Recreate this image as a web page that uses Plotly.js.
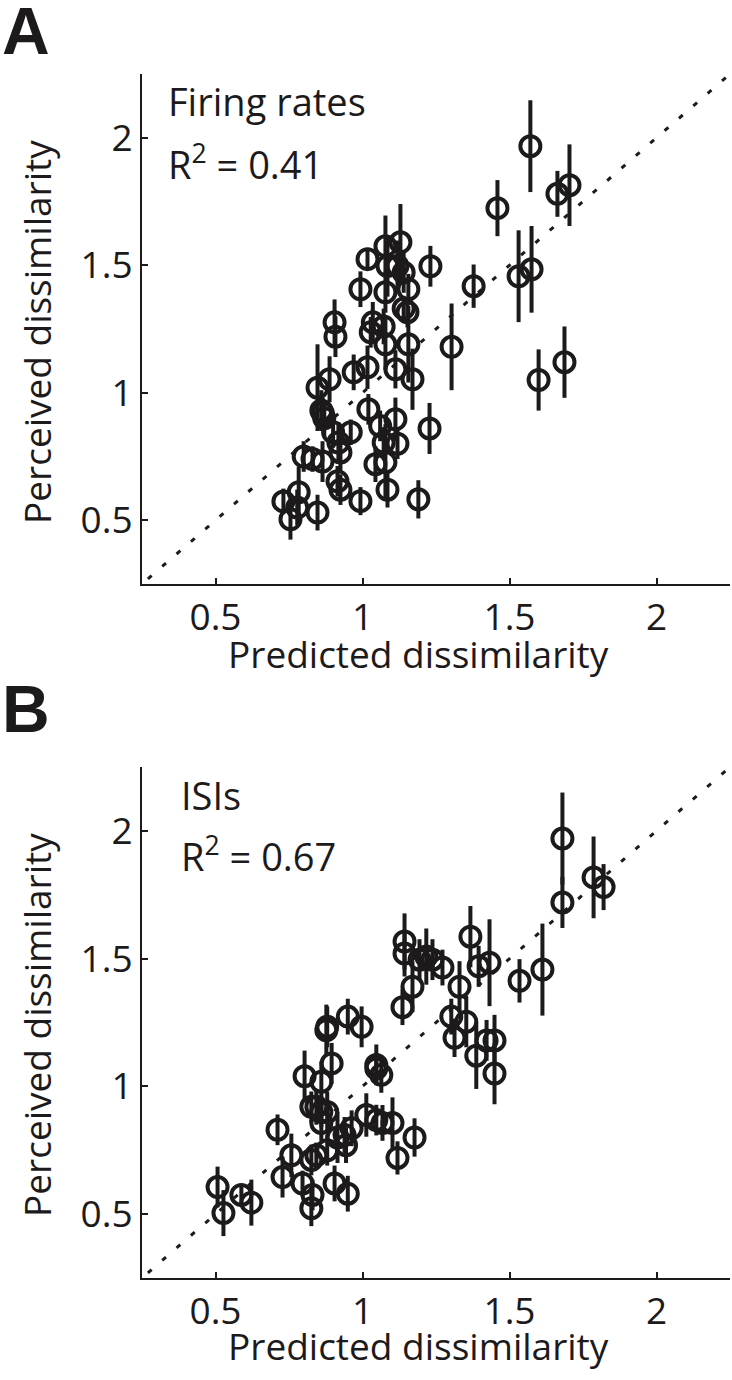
<!DOCTYPE html>
<html>
<head>
<meta charset="utf-8">
<script src="https://cdn.plot.ly/plotly-3.0.1.min.js"></script>
<style>html,body{margin:0;padding:0;background:#fff;}#chart{width:732px;height:1380px;}</style>
</head>
<body>
<div id="chart"></div>
<script>
// ---------- Data ----------
// Panel A: firing rates
const predA = [1.571,1.459,1.663,1.704,1.378,1.531,1.575,1.231,1.303,1.599,1.687,1.228,1.19,1.17,1.156,1.153,1.14,
  0.731,0.755,0.783,0.778,0.847,0.80,0.83,0.864,0.847,0.888,0.86,0.87,0.865,0.905,0.908,0.90,0.918,0.925,0.915,0.925,
  0.96,0.993,0.97,1.017,1.02,1.06,1.044,1.078,1.085,1.072,1.112,1.119,1.112,1.028,1.035,1.072,1.078,1.017,1.078,
  1.129,1.119,1.14,1.085,0.993,1.078,1.156];
const percA = [1.967,1.724,1.78,1.814,1.418,1.457,1.484,1.496,1.18,1.05,1.12,0.86,0.582,1.053,1.19,1.316,1.33,
  0.574,0.504,0.61,0.55,0.53,0.75,0.74,0.73,1.02,1.053,0.93,0.90,0.92,1.276,1.22,0.845,0.805,0.766,0.653,0.62,
  0.845,0.575,1.08,1.10,0.935,0.87,0.72,0.727,0.62,0.805,0.896,0.80,1.092,1.237,1.276,1.26,1.19,1.524,1.575,
  1.59,1.497,1.472,1.497,1.406,1.394,1.406];
const errA = [0.18,0.11,0.09,0.16,0.085,0.18,0.17,0.08,0.17,0.12,0.14,0.10,0.075,0.12,0.15,0.06,0.05,
  0.05,0.08,0.10,0.07,0.07,0.06,0.05,0.08,0.17,0.09,0.08,0.07,0.06,0.09,0.08,0.06,0.08,0.08,0.06,0.06,
  0.05,0.055,0.07,0.085,0.06,0.06,0.07,0.15,0.07,0.06,0.085,0.06,0.075,0.06,0.08,0.07,0.10,0.04,0.12,
  0.15,0.10,0.08,0.12,0.07,0.08,0.06];

// Panel B: ISIs
const predB = [1.68,1.68,1.786,1.82,1.612,1.534,1.367,1.432,1.395,1.33,1.143,1.17,1.217,1.238,1.272,1.136,1.194,1.143,
  0.507,0.527,0.588,0.622,0.711,0.728,0.758,0.796,0.803,0.826,0.83,0.826,0.843,0.86,0.826,0.843,0.86,0.88,0.86,0.88,
  0.877,0.88,0.895,0.905,0.95,0.915,0.939,0.944,0.963,0.95,0.997,1.013,1.047,1.047,1.064,1.047,1.068,1.102,1.119,
  1.177,1.302,1.353,1.313,1.387,1.422,1.449,1.449];
const percB = [1.97,1.72,1.818,1.78,1.457,1.413,1.586,1.484,1.47,1.39,1.567,1.39,1.508,1.496,1.465,1.31,1.496,1.52,
  0.606,0.504,0.575,0.545,0.83,0.645,0.73,0.62,1.04,0.523,0.575,0.712,0.73,1.018,0.92,0.92,0.90,0.90,0.857,0.75,
  1.22,1.233,1.09,0.62,0.58,0.80,0.81,0.77,0.836,1.273,1.233,0.888,1.084,1.07,1.045,0.868,0.857,0.857,0.72,
  0.80,1.273,1.253,1.19,1.12,1.18,1.18,1.05];
const errB = [0.18,0.10,0.16,0.09,0.18,0.085,0.12,0.17,0.08,0.10,0.11,0.10,0.11,0.08,0.07,0.07,0.08,0.09,
  0.08,0.09,0.04,0.09,0.06,0.08,0.085,0.05,0.10,0.07,0.06,0.06,0.05,0.08,0.06,0.07,0.06,0.08,0.07,0.06,
  0.10,0.08,0.08,0.07,0.07,0.10,0.07,0.07,0.07,0.07,0.08,0.085,0.08,0.06,0.07,0.06,0.07,0.10,0.065,
  0.075,0.07,0.10,0.075,0.13,0.08,0.10,0.12];

const diagLine = [0.27, 2.25];
const tickVals = [0.5, 1, 1.5, 2];
const tickText = ['0.5', '1', '1.5', '2'];
const labelA = 'Firing rates', r2A = 'R<sup>2</sup> = 0.41';
const labelB = 'ISIs', r2B = 'R<sup>2</sup> = 0.67';
const xTitle = 'Predicted dissimilarity', yTitle = 'Perceived dissimilarity';

// ---------- Layout helpers ----------
const W = 732, H = 1380, L = 142, R = 2, T = 74, B = 102;
const pw = W - L - R, ph = H - T - B;
const px = x => (x - L) / pw;
const py = y => (H - B - y) / ph;
const INK = '#1c1a1b';
const FONT = '"Open Sans", "Noto Sans", sans-serif';

function pts(x, y, e, xa, ya) {
  return {
    x: x, y: y, xaxis: xa, yaxis: ya, type: 'scatter', mode: 'markers',
    marker: {symbol: 'circle-open', size: 20, color: INK, line: {width: 4, color: INK}},
    error_y: {type: 'data', array: e, visible: true, width: 0, thickness: 4, color: INK},
    showlegend: false, hoverinfo: 'skip'
  };
}
function diag(xa, ya) {
  return {x: diagLine, y: diagLine, xaxis: xa, yaxis: ya, type: 'scatter', mode: 'lines',
    line: {color: INK, width: 3, dash: '5px,14px'}, showlegend: false, hoverinfo: 'skip'};
}
function axis(extra) {
  return Object.assign({
    range: [0.25, 2.25], tickvals: tickVals, ticktext: tickText, ticks: 'inside', ticklen: 6, tickwidth: 2,
    tickcolor: INK, showline: true, linewidth: 2, linecolor: INK, showgrid: false, zeroline: false,
    mirror: false, tickfont: {family: FONT, size: 37, color: INK}, fixedrange: true
  }, extra);
}

const yDomA = [py(584), 1];
const yDomB = [0, py(767)];

const traces = [
  diag('x', 'y'), pts(predA, percA, errA, 'x', 'y'),
  diag('x2', 'y2'), pts(predB, percB, errB, 'x2', 'y2')
];

function ann(text, x, y, opts) {
  return Object.assign({text: text, xref: 'paper', yref: 'paper', x: px(x), y: py(y), showarrow: false,
    font: {family: FONT, size: 37, color: INK}}, opts || {});
}
const BIG = {family: '"Liberation Sans", Arial, sans-serif', size: 66, color: INK};
const TXT = {family: FONT, size: 38, color: INK};

const annotations = [
  ann('<b>A</b>', 0, -8, {xanchor: 'left', yanchor: 'top', font: BIG}),
  ann('<b>B</b>', 0, 670, {xanchor: 'left', yanchor: 'top', font: BIG}),
  ann(labelA, 166, 101, {xanchor: 'left', yanchor: 'middle', font: TXT}),
  ann(r2A, 166, 163, {xanchor: 'left', yanchor: 'middle', font: TXT}),
  ann(labelB, 179, 795, {xanchor: 'left', yanchor: 'middle', font: TXT}),
  ann(r2B, 179, 855, {xanchor: 'left', yanchor: 'middle', font: TXT}),
  ann(xTitle, 418, 653, {xanchor: 'center', yanchor: 'middle'}),
  ann(xTitle, 418, 1345, {xanchor: 'center', yanchor: 'middle'}),
  ann(yTitle, 36, 332, {xanchor: 'center', yanchor: 'middle', textangle: -90}),
  ann(yTitle, 36, 1025, {xanchor: 'center', yanchor: 'middle', textangle: -90})
];

const layout = {
  width: W, height: H, margin: {l: L, r: R, t: T, b: B, pad: 0},
  paper_bgcolor: '#ffffff', plot_bgcolor: '#ffffff', showlegend: false,
  xaxis: axis({domain: [0, 1], anchor: 'y', ticklabelstandoff: 0}),
  yaxis: axis({domain: yDomA, anchor: 'x'}),
  xaxis2: axis({domain: [0, 1], anchor: 'y2', ticklabelstandoff: 0}),
  yaxis2: axis({domain: yDomB, anchor: 'x2'}),
  annotations: annotations
};

Plotly.newPlot('chart', traces, layout, {staticPlot: true, displayModeBar: false});
</script>
</body>
</html>
